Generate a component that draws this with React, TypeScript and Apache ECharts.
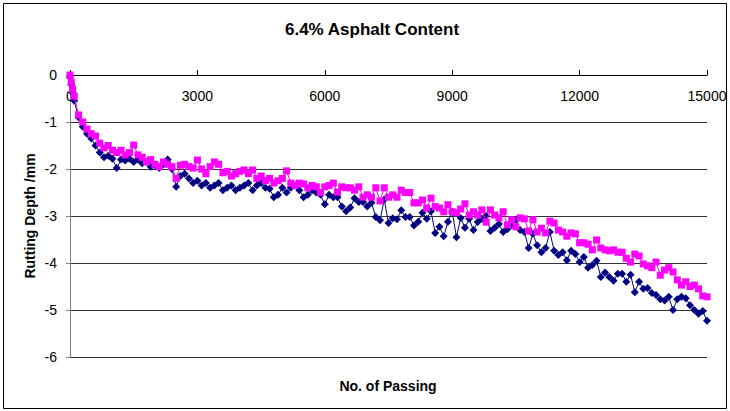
import React, { useEffect, useRef } from "react";
import * as echarts from "echarts";

const passes = [
  0, 30, 60, 100, 200, 300, 400, 500, 600, 700, 800, 900, 1000,
  1100, 1200, 1300, 1400, 1500, 1600, 1700, 1800, 1900, 2000,
  2100, 2200, 2300, 2400, 2500, 2600, 2700, 2800, 2900, 3000,
  3100, 3200, 3300, 3400, 3500, 3600, 3700, 3800, 3900, 4000,
  4100, 4200, 4300, 4400, 4500, 4600, 4700, 4800, 4900, 5000,
  5100, 5200, 5300, 5400, 5500, 5600, 5700, 5800, 5900, 6000,
  6100, 6200, 6300, 6400, 6500, 6600, 6700, 6800, 6900, 7000,
  7100, 7200, 7300, 7400, 7500, 7600, 7700, 7800, 7900, 8000,
  8100, 8200, 8300, 8400, 8500, 8600, 8700, 8800, 8900, 9000,
  9100, 9200, 9300, 9400, 9500, 9600, 9700, 9800, 9900, 10000,
  10100, 10200, 10300, 10400, 10500, 10600, 10700, 10800, 10900, 11000,
  11100, 11200, 11300, 11400, 11500, 11600, 11700, 11800, 11900, 12000,
  12100, 12200, 12300, 12400, 12500, 12600, 12700, 12800, 12900, 13000,
  13100, 13200, 13300, 13400, 13500, 13600, 13700, 13800, 13900, 14000,
  14100, 14200, 14300, 14400, 14500, 14600, 14700, 14800, 14900, 15000,
];

const navySeries = [
  -0.05, -0.2, -0.38,
  -0.55, -0.9, -1.1, -1.25, -1.35, -1.5, -1.65, -1.75, -1.72, -1.78,
  -1.98, -1.8, -1.82, -1.78, -1.85, -1.8, -1.88, -1.85, -1.95, -1.92,
  -1.98, -1.9, -1.8, -2.0, -2.38, -2.15, -2.1, -2.2, -2.3, -2.25,
  -2.35, -2.3, -2.4, -2.35, -2.3, -2.45, -2.4, -2.35, -2.45, -2.4,
  -2.35, -2.3, -2.45, -2.35, -2.3, -2.4, -2.42, -2.6, -2.55, -2.4,
  -2.5, -2.4, -2.35, -2.45, -2.6, -2.55, -2.45, -2.5, -2.55, -2.75,
  -2.55, -2.6, -2.6, -2.8, -2.9, -2.82, -2.62, -2.7, -2.7, -2.8,
  -2.72, -3.02, -3.09, -2.65, -3.15, -3.05, -3.07, -2.88, -3.02, -3.02,
  -3.2, -3.12, -2.93, -3.06, -2.9, -3.36, -3.23, -3.43, -3.12, -2.91,
  -3.45, -3.04, -3.25, -3.06, -3.3, -3.13, -3.06, -3.0, -3.32, -3.25,
  -3.17, -3.34, -3.28, -3.19, -3.08, -3.3, -3.34, -3.68, -3.38, -3.62,
  -3.77, -3.68, -3.34, -3.74, -3.83, -3.77, -3.94, -3.74, -3.81, -3.98,
  -3.87, -4.1, -4.04, -3.95, -4.3, -4.2, -4.3, -4.38, -4.23, -4.23,
  -4.4, -4.25, -4.62, -4.4, -4.55, -4.53, -4.64, -4.68, -4.77, -4.8,
  -4.72, -5.0, -4.77, -4.72, -4.75, -4.9, -5.0, -5.08, -5.02, -5.23,
];

const magentaSeries = [
  0, -0.15, -0.3,
  -0.45, -0.85, -1.0, -1.15, -1.25, -1.3, -1.45, -1.55, -1.5, -1.6,
  -1.65, -1.6, -1.7, -1.65, -1.49, -1.7, -1.75, -1.85, -1.8, -1.9,
  -1.95, -1.85, -1.9, -1.95, -2.2, -1.92, -1.9, -1.95, -1.98, -1.81,
  -2.0, -2.1, -1.95, -1.85, -1.9, -2.08, -2.05, -2.15, -2.1, -2.05,
  -2.02, -2.1, -2.02, -2.2, -2.15, -2.25, -2.2, -2.3, -2.25, -2.2,
  -2.04, -2.3, -2.35, -2.3, -2.32, -2.4, -2.35, -2.38, -2.5, -2.38,
  -2.35, -2.3, -2.49, -2.38, -2.4, -2.4, -2.45, -2.38, -2.6, -2.55,
  -2.6, -2.4, -2.68, -2.4, -2.6, -2.55, -2.6, -2.45, -2.5, -2.5,
  -2.72, -2.72, -2.66, -2.83, -2.62, -2.8, -2.83, -2.91, -2.76, -2.91,
  -2.93, -2.85, -2.74, -2.98, -2.91, -2.98, -2.87, -3.13, -2.87, -2.98,
  -3.04, -2.91, -3.19, -3.08, -3.23, -3.04, -3.06, -3.32, -3.08, -3.34,
  -3.26, -3.36, -3.11, -3.15, -3.3, -3.34, -3.43, -3.36, -3.38, -3.57,
  -3.57, -3.6, -3.72, -3.51, -3.68, -3.72, -3.74, -3.72, -3.77, -3.77,
  -3.9, -3.98, -3.81, -3.85, -4.02, -4.06, -4.1, -3.98, -4.26, -4.15,
  -4.1, -4.19, -4.36, -4.47, -4.4, -4.5, -4.47, -4.55, -4.7, -4.72,
];

const titleText = "6.4% Asphalt Content";
const xAxisTitle = "No. of Passing";
const yAxisTitle = "Rutting Depth /mm";

const FONT = "'Liberation Sans', Arial, sans-serif";

export default function App() {
  const ref = useRef<HTMLDivElement>(null);

  useEffect(() => {
    if (!ref.current) return;
    const chart = echarts.init(ref.current, null, { renderer: "svg" });
    const navyData = passes.map((p, i) => [p, navySeries[i]]);
    const magentaData = passes.map((p, i) => [p, magentaSeries[i]]);

    chart.setOption({
      animation: false,
      backgroundColor: "#ffffff",
      grid: { left: 70, right: 23, top: 75, bottom: 54, containLabel: false },
      xAxis: {
        type: "value",
        position: "top",
        min: 0,
        max: 15000,
        interval: 3000,
        axisLine: { show: true, onZero: false, lineStyle: { color: "#000", width: 1 } },
        axisTick: { show: true, inside: false, length: 5, lineStyle: { color: "#000" } },
        axisLabel: {
          inside: true,
          margin: 14,
          color: "#000",
          fontSize: 14,
          fontFamily: FONT,
          formatter: (v: number) => String(v),
        },
        splitLine: { show: false },
      },
      yAxis: {
        type: "value",
        min: -6,
        max: 0,
        interval: 1,
        axisLine: { show: true, onZero: false, lineStyle: { color: "#808080", width: 1 } },
        axisTick: { show: true, inside: false, length: 4, lineStyle: { color: "#808080" } },
        axisLabel: {
          margin: 13,
          color: "#000",
          fontSize: 14,
          fontFamily: FONT,
          formatter: (v: number) => String(v),
        },
        splitLine: { show: true, lineStyle: { color: "#333", width: 1 } },
      },
      graphic: [
        {
          type: "rect",
          shape: { x: 3.5, y: 3.5, width: 723, height: 405 },
          style: { fill: "none", stroke: "#000", lineWidth: 1 },
          silent: true,
          z: 100,
        },
        {
          type: "text",
          x: 372,
          y: 29,
          style: {
            text: titleText,
            fontSize: 17,
            fontWeight: "bold",
            fontFamily: FONT,
            fill: "#000",
            textAlign: "center",
            textVerticalAlign: "middle",
          },
        },
        {
          type: "text",
          x: 388,
          y: 386,
          style: {
            text: xAxisTitle,
            fontSize: 14,
            fontWeight: "bold",
            fontFamily: FONT,
            fill: "#000",
            textAlign: "center",
            textVerticalAlign: "middle",
          },
        },
        {
          type: "text",
          x: 30,
          y: 216,
          rotation: Math.PI / 2,
          style: {
            text: yAxisTitle,
            fontSize: 14,
            fontWeight: "bold",
            fontFamily: FONT,
            fill: "#000",
            textAlign: "center",
            textVerticalAlign: "middle",
          },
        },
      ],
      series: [
        {
          type: "line",
          name: "navy",
          data: navyData,
          symbol: "diamond",
          symbolSize: 8,
          showAllSymbol: true,
          lineStyle: { color: "#000080", width: 1 },
          itemStyle: { color: "#000080" },
          z: 2,
        },
        {
          type: "line",
          name: "magenta",
          data: magentaData,
          symbol: "rect",
          symbolSize: 7,
          showAllSymbol: true,
          lineStyle: { color: "#FF00FF", width: 1 },
          itemStyle: { color: "#FF00FF" },
          z: 3,
        },
      ],
    });

    return () => {
      chart.dispose();
    };
  }, []);

  return (
    <div
      ref={ref}
      style={{ position: "fixed", left: 0, top: 0, width: 730, height: 411 }}
    />
  );
}
